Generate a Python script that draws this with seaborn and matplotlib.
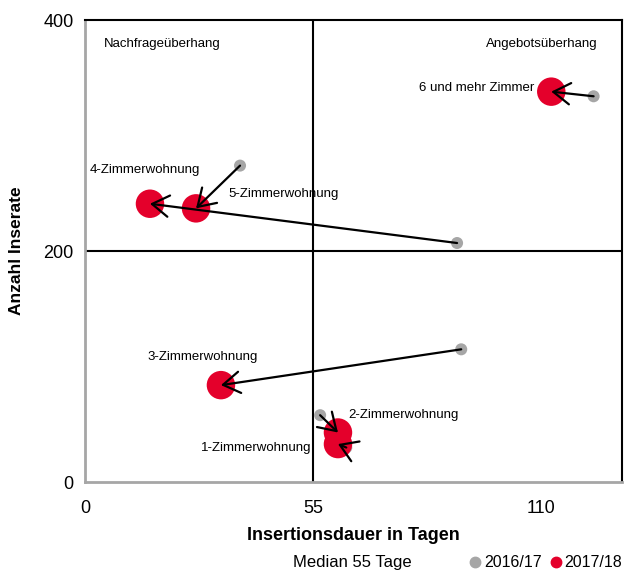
import matplotlib
matplotlib.use('Agg')
import matplotlib.pyplot as plt
from matplotlib.lines import Line2D
import seaborn as sns
import pandas as pd

# Daten: Insertionsdauer (Tage) und Anzahl Inserate je Wohnungsgroesse
kategorien = ['1-Zimmerwohnung', '2-Zimmerwohnung', '3-Zimmerwohnung',
              '4-Zimmerwohnung', '5-Zimmerwohnung', '6 und mehr Zimmer']
dauer_2016 = [63, 56.7, 90.7, 89.7, 37.4, 122.6]
inserate_2016 = [30, 58, 115, 207, 274, 334]
dauer_2017 = [61, 61, 32.8, 15.7, 26.8, 112.4]
inserate_2017 = [33, 43, 84, 241, 237, 338]

median_dauer = 55
median_inserate = 200

x_ticks = [0, 55, 110]
y_ticks = [0, 200, 400]

df16 = pd.DataFrame({'kat': kategorien, 'x': dauer_2016, 'y': inserate_2016})
df17 = pd.DataFrame({'kat': kategorien, 'x': dauer_2017, 'y': inserate_2017})

grau = '#a6a6a6'
rot = '#e4002b'

sns.set_style('white')
plt.rcParams['font.family'] = ['Liberation Sans', 'DejaVu Sans']
plt.rcParams['text.color'] = 'black'
plt.rcParams['axes.labelcolor'] = 'black'
plt.rcParams['xtick.labelcolor'] = 'black'
plt.rcParams['ytick.labelcolor'] = 'black'

fig = plt.figure(figsize=(6.33, 5.72), dpi=100)
ax = fig.add_axes([0.134, 0.157, 0.849, 0.808])

# Quadranten-Linien (Median)
ax.axvline(median_dauer, color='black', lw=1.5, zorder=1)
ax.axhline(median_inserate, color='black', lw=1.5, zorder=1)

sns.scatterplot(data=df16, x='x', y='y', color=grau, s=75, edgecolor='none', ax=ax, zorder=2)
sns.scatterplot(data=df17, x='x', y='y', color=rot, s=420, edgecolor='none', ax=ax, zorder=3)

# Pfeile von 2016/17 nach 2017/18
for i in range(len(kategorien)):
    ax.annotate('', xy=(dauer_2017[i], inserate_2017[i]), xytext=(dauer_2016[i], inserate_2016[i]),
                arrowprops=dict(arrowstyle='->, head_length=0.55, head_width=0.35', color='black',
                                lw=1.6, mutation_scale=22, shrinkA=0, shrinkB=0), zorder=4)

# Beschriftungen
label_pos = {
    '1-Zimmerwohnung': (54.5, 30, 'right'),
    '2-Zimmerwohnung': (63.5, 58, 'left'),
    '3-Zimmerwohnung': (15.2, 108, 'left'),
    '4-Zimmerwohnung': (1.2, 270, 'left'),
    '5-Zimmerwohnung': (34.5, 249, 'left'),
    '6 und mehr Zimmer': (108.3, 341, 'right'),
}
for kat, (lx, ly, ha) in label_pos.items():
    ax.text(lx, ly, kat, ha=ha, va='center', fontsize=9.5, zorder=5)

ax.text(4.6, 379, 'Nachfrageüberhang', ha='left', va='center', fontsize=9.5)
ax.text(123.5, 379, 'Angebotsüberhang', ha='right', va='center', fontsize=9.5)

ax.set_xlim(0, 129.5)
ax.set_ylim(0, 400)
ax.set_xticks(x_ticks)
ax.set_yticks(y_ticks)
ax.tick_params(axis='x', direction='in', length=5, color=grau, labelsize=13, pad=13)
ax.tick_params(axis='y', length=0, labelsize=13, pad=8)

ax.set_xlabel('Insertionsdauer in Tagen', fontsize=13, fontweight='bold', labelpad=7)
ax.set_ylabel('Anzahl Inserate', fontsize=12.5, fontweight='bold', labelpad=14)

for side in ['left', 'bottom']:
    ax.spines[side].set_color(grau)
    ax.spines[side].set_linewidth(2)
for side in ['top', 'right']:
    ax.spines[side].set_color('black')
    ax.spines[side].set_linewidth(1.5)

fig.text(0.556, 0.004, 'Median 55 Tage', ha='center', va='bottom', fontsize=12)

handles = [Line2D([], [], marker='o', ls='', color=grau, markersize=7.5, label='2016/17'),
           Line2D([], [], marker='o', ls='', color=rot, markersize=7.5, label='2017/18')]
fig.legend(handles=handles, loc='lower right', bbox_to_anchor=(1.006, -0.022), ncol=2, frameon=False,
           fontsize=11.5, handletextpad=0.05, columnspacing=0.4, handlelength=1.0)

fig.savefig('out.png', dpi=100)
